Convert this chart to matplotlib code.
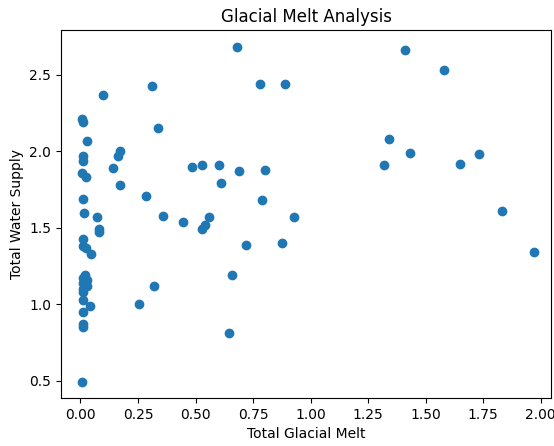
import matplotlib.pyplot as plt

# Valores
glacial_melt = [
    0.68, 1.41, 1.58, 0.098, 0.31, 0.78, 0.89, 0.337, 0.005, 0.012,
    0.028, 0.17, 0.165, 0.14, 0.01, 0.01, 0.005, 0.024, 0.17, 0.01,
    0.285, 0.485, 0.53, 0.60, 0.61, 0.69, 0.80, 0.79, 1.34, 1.32,
    1.43, 1.65, 1.73, 1.83, 1.97, 0.015, 0.07, 0.08, 0.08, 0.36,
    0.445, 0.56, 0.53, 0.54, 0.93, 0.72, 0.875, 0.66, 0.645, 0.32,
    0.255, 0.01, 0.01, 0.024, 0.045, 0.02, 0.03, 0.01, 0.01, 0.03,
    0.01, 0.04, 0.01, 0.01, 0.01, 0.005, 0.01, 0.012,
]
water_supply = [
    2.68, 2.66, 2.53, 2.37, 2.43, 2.44, 2.44, 2.15, 2.21, 2.19,
    2.07, 2.00, 1.97, 1.89, 1.97, 1.94, 1.86, 1.83, 1.78, 1.69,
    1.71, 1.90, 1.91, 1.91, 1.79, 1.87, 1.88, 1.68, 2.08, 1.91,
    1.99, 1.92, 1.98, 1.61, 1.34, 1.60, 1.57, 1.49, 1.47, 1.58,
    1.54, 1.57, 1.49, 1.52, 1.57, 1.39, 1.40, 1.19, 0.81, 1.12,
    1.00, 1.43, 1.38, 1.37, 1.33, 1.19, 1.16, 1.14, 1.10, 1.12,
    1.03, 0.99, 0.95, 0.87, 0.85, 0.49, 1.17, 1.08,
]

fig = plt.figure(figsize=(5.54, 4.46), dpi=100)
ax = fig.add_axes([0.110, 0.108, 0.885, 0.825])

ax.scatter(glacial_melt, water_supply, color="#1f77b4")
ax.set_xlim(-0.085, 2.046)
ax.set_ylim(0.389, 2.794)
ax.set_xticks([0.0, 0.25, 0.5, 0.75, 1.0, 1.25, 1.5, 1.75, 2.0])
ax.set_title("Glacial Melt Analysis")
ax.set_xlabel("Total Glacial Melt")
ax.set_ylabel("Total Water Supply")

plt.savefig("out.png")
